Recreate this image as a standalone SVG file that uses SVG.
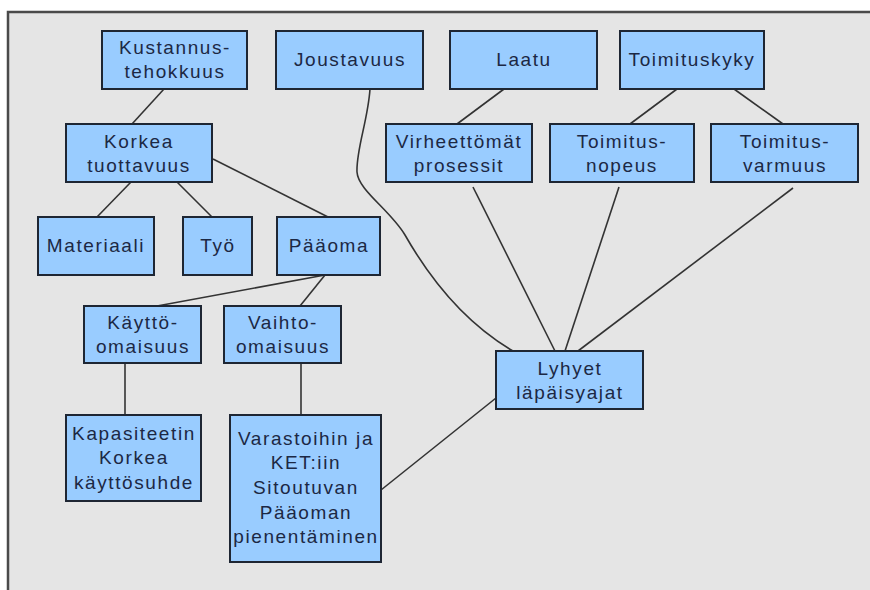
<svg xmlns="http://www.w3.org/2000/svg" width="870" height="590" viewBox="0 0 870 590">
  <style>
    .box { fill: #99ccff; stroke: #1e2633; stroke-width: 2; }
    .lbl { font-family: "Liberation Sans", Arial, sans-serif; font-size: 19px; letter-spacing: 1.6px; fill: #1c2844; text-anchor: middle; }
    .edge { fill: none; stroke: #333333; stroke-width: 1.6; }
  </style>

  <!-- canvas and frame -->
  <rect x="0" y="0" width="870" height="590" fill="#ffffff"/>
  <rect x="8" y="12" width="862" height="578" fill="#e5e5e5"/>
  <path d="M8,590 V12 H870" fill="none" stroke="#4a4a4a" stroke-width="2.5"/>

  <!-- connectors -->
  <g id="connectors">
    <line class="edge" x1="164" y1="89" x2="132" y2="124"/>
    <line class="edge" x1="131" y1="182" x2="97" y2="217"/>
    <line class="edge" x1="177" y1="182" x2="212" y2="217"/>
    <line class="edge" x1="213" y1="159" x2="328" y2="217"/>
    <line class="edge" x1="325" y1="275" x2="157" y2="306"/>
    <line class="edge" x1="325" y1="275" x2="300" y2="306"/>
    <line class="edge" x1="125" y1="363" x2="125" y2="415"/>
    <line class="edge" x1="301" y1="363" x2="301" y2="415"/>
    <line class="edge" x1="381" y1="490" x2="496" y2="398"/>
    <line class="edge" x1="504" y1="89" x2="457" y2="124"/>
    <line class="edge" x1="677" y1="89" x2="630" y2="124"/>
    <line class="edge" x1="734" y1="89" x2="783" y2="124"/>
    <line class="edge" x1="473" y1="187" x2="555" y2="351"/>
    <line class="edge" x1="619" y1="187" x2="565" y2="351"/>
    <line class="edge" x1="793" y1="188" x2="578" y2="351"/>
    <path class="edge" d="M370,89 C368,120 356,150 357,172 C358,190 390,210 405,235 C425,270 460,320 513,351"/>
  </g>

  <!-- top row -->
  <g id="kustannustehokkuus">
    <rect class="box" x="102" y="31" width="145" height="58"/>
    <text class="lbl" x="175" y="54">Kustannus-</text>
    <text class="lbl" x="175" y="78">tehokkuus</text>
  </g>
  <g id="joustavuus">
    <rect class="box" x="276" y="31" width="147" height="58"/>
    <text class="lbl" x="350" y="66">Joustavuus</text>
  </g>
  <g id="laatu">
    <rect class="box" x="450" y="31" width="147" height="58"/>
    <text class="lbl" x="524" y="66">Laatu</text>
  </g>
  <g id="toimituskyky">
    <rect class="box" x="620" y="31" width="144" height="58"/>
    <text class="lbl" x="692" y="66">Toimituskyky</text>
  </g>

  <!-- second row -->
  <g id="korkea-tuottavuus">
    <rect class="box" x="66" y="124" width="146" height="58"/>
    <text class="lbl" x="139" y="148">Korkea</text>
    <text class="lbl" x="139" y="172">tuottavuus</text>
  </g>
  <g id="virheettomat-prosessit">
    <rect class="box" x="386" y="124" width="146" height="58"/>
    <text class="lbl" x="459" y="148">Virheettömät</text>
    <text class="lbl" x="459" y="172">prosessit</text>
  </g>
  <g id="toimitusnopeus">
    <rect class="box" x="550" y="124" width="144" height="58"/>
    <text class="lbl" x="622" y="148">Toimitus-</text>
    <text class="lbl" x="622" y="172">nopeus</text>
  </g>
  <g id="toimitusvarmuus">
    <rect class="box" x="711" y="124" width="147" height="58"/>
    <text class="lbl" x="785" y="148">Toimitus-</text>
    <text class="lbl" x="785" y="172">varmuus</text>
  </g>

  <!-- third row -->
  <g id="materiaali">
    <rect class="box" x="38" y="217" width="116" height="58"/>
    <text class="lbl" x="96" y="252">Materiaali</text>
  </g>
  <g id="tyo">
    <rect class="box" x="183" y="217" width="69" height="58"/>
    <text class="lbl" x="218" y="252">Työ</text>
  </g>
  <g id="paaoma">
    <rect class="box" x="277" y="217" width="103" height="58"/>
    <text class="lbl" x="329" y="252">Pääoma</text>
  </g>

  <!-- fourth row -->
  <g id="kayttoomaisuus">
    <rect class="box" x="84" y="306" width="117" height="57"/>
    <text class="lbl" x="143" y="329">Käyttö-</text>
    <text class="lbl" x="143" y="353">omaisuus</text>
  </g>
  <g id="vaihto-omaisuus">
    <rect class="box" x="224" y="306" width="117" height="57"/>
    <text class="lbl" x="283" y="329">Vaihto-</text>
    <text class="lbl" x="283" y="353">omaisuus</text>
  </g>
  <g id="lyhyet-lapaisyajat">
    <rect class="box" x="496" y="351" width="147" height="58"/>
    <text class="lbl" x="570" y="375">Lyhyet</text>
    <text class="lbl" x="570" y="399">läpäisyajat</text>
  </g>

  <!-- bottom row -->
  <g id="kapasiteetin-kayttosuhde">
    <rect class="box" x="66" y="415" width="135" height="86"/>
    <text class="lbl" x="134" y="440">Kapasiteetin</text>
    <text class="lbl" x="134" y="464">Korkea</text>
    <text class="lbl" x="134" y="489">käyttösuhde</text>
  </g>
  <g id="sitoutuvan-paaoman-pienentaminen">
    <rect class="box" x="230" y="415" width="151" height="147"/>
    <text class="lbl" x="306" y="445">Varastoihin ja</text>
    <text class="lbl" x="306" y="469">KET:iin</text>
    <text class="lbl" x="306" y="494">Sitoutuvan</text>
    <text class="lbl" x="306" y="519">Pääoman</text>
    <text class="lbl" x="306" y="543">pienentäminen</text>
  </g>
</svg>
